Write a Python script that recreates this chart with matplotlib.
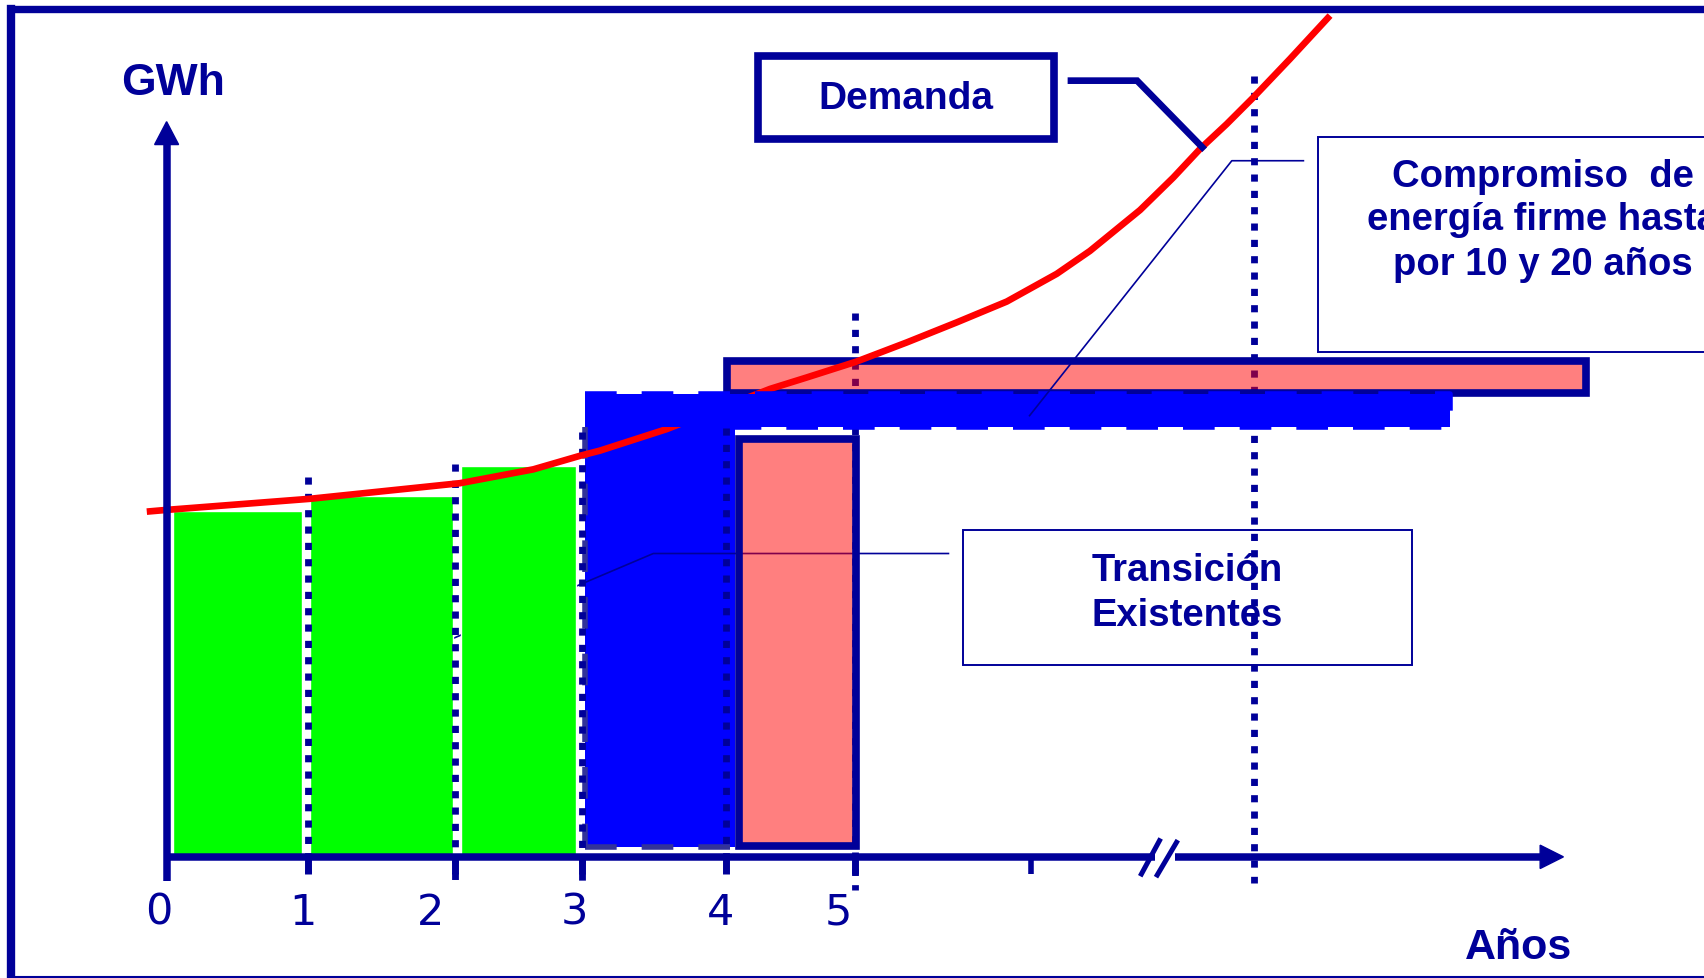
import numpy as np
import matplotlib.pyplot as plt
from matplotlib.patches import Rectangle, Polygon

NAVY = '#000099'
BOLD = 'Liberation Sans'

# contratos existentes (verde): inicio, fin (años) y energía (GWh, escala relativa)
exist_start = [0.05, 1.04, 2.14]
exist_end = [0.98, 2.08, 2.97]
exist_gwh = [99.8, 104.2, 112.9]

# curva de demanda
dem_years = [-0.144, 0.001, 1.042, 2.131, 2.664, 3.002, 3.148, 3.632, 4.383,
             4.649, 5.012, 5.375, 5.739, 6.102, 6.465, 6.706, 7.070, 7.312,
             7.505, 7.699, 7.893, 8.159, 8.450]
dem_gwh = [99.6, 100.1, 103.3, 107.8, 111.8, 115.7, 117.2, 123.4, 135.0,
           138.3, 142.9, 148.4, 154.2, 160.2, 168.2, 174.8, 186.6, 196.0,
           204.2, 211.4, 219.1, 230.2, 242.7]

# transicion (azul): bloque vertical + franja horizontal
trans_start = 3.04
trans_block_end = 4.13
trans_band_end = 9.32
trans_low = 2.8
trans_band_low = 123.9
trans_high = 133.4

# compromisos de energia firme (rosado): inicio, fin, minimo, maximo
firm_long = [4.07, 10.31, 133.7, 143.0]
firm_short = [4.16, 5.01, 3.0, 120.6]

# lineas punteadas de los años
mark_years = [1.03, 2.095, 3.02, 4.06, 5.0, 7.9]
mark_top = [109.6, 113.4, 122.6, 123.7, 156.8, 225.4]
mark_bottom = [-4.8, -8.6, -8.3, -3.3, -9.6, -7.6]

tick_labels = ['0', '1', '2', '3', '4', '5']
tick_label_x = [-0.06, 0.99, 1.92, 2.96, 4.02, 4.88]

fig = plt.figure(figsize=(17.04, 9.79), dpi=100)
ax = fig.add_axes([0, 0, 1, 1])
ax.set_xlim(-1.21, 11.166)
ax.set_ylim(-34.95, 247.49)
ax.axis('off')

# bloque azul
ax.add_patch(Rectangle((trans_start, trans_low), trans_block_end - trans_start,
                       trans_band_low - trans_low, facecolor='#0000FF',
                       edgecolor='none', zorder=1))
dash = (0, (5.7, 4.5))
ax.plot([trans_start, trans_start], [trans_band_low, trans_low], color='#333399',
        lw=4, ls=dash, zorder=1.5)
ax.plot([trans_start, trans_block_end], [trans_low, trans_low], color='#333399',
        lw=4, ls=dash, zorder=1.5)

# franja azul
ax.add_patch(Rectangle((trans_start, trans_band_low), trans_band_end - trans_start,
                       trans_high - trans_band_low, facecolor='#0000FF',
                       edgecolor='none', zorder=7))
ax.plot([trans_start, trans_band_end, trans_band_end, trans_block_end],
        [trans_high, trans_high, trans_band_low, trans_band_low],
        color='#0000FF', lw=4, ls=dash, zorder=7.5)

# barras verdes
ax.bar(exist_start, exist_gwh, width=np.subtract(exist_end, exist_start),
       align='edge', color='#00FF00', edgecolor='white', lw=1, zorder=3)

# punteadas
for x, top, bot in zip(mark_years, mark_top, mark_bottom):
    ax.plot([x, x], [top, bot], color=NAVY, lw=4.9, ls=(0, (1.05, 1.35)),
            dash_capstyle='butt', zorder=4.5)

# rectangulos rosados
for s, e, lo, hi in [firm_long, firm_short]:
    ax.add_patch(Rectangle((s, lo), e - s, hi - lo, facecolor=(1, 0, 0, 0.5),
                           edgecolor=NAVY, lw=5.5, joinstyle='miter', zorder=5))

# demanda
ax.plot(dem_years, dem_gwh, color='#FF0000', lw=4.8, solid_joinstyle='round',
        solid_capstyle='butt', zorder=6)

# ejes
ax.plot([0, 0], [-6.9, 206], color=NAVY, lw=5.4, solid_capstyle='butt', zorder=8)
ax.add_patch(Polygon([(-0.087, 205.5), (0.087, 205.5), (0, 212.1)],
                     closed=True, color=NAVY, zorder=8))
ax.plot([0, 7.178], [0, 0], color=NAVY, lw=5.4, solid_capstyle='butt', zorder=8)
ax.plot([7.325, 9.98], [0, 0], color=NAVY, lw=5.4, solid_capstyle='butt', zorder=8)
ax.add_patch(Polygon([(9.976, -3.37), (9.976, 3.37), (10.145, 0)],
                     closed=True, color=NAVY, zorder=8))
ax.plot([7.080, 7.211], [-4.95, 4.67], color=NAVY, lw=3.6, zorder=8)
ax.plot([7.195, 7.335], [-5.24, 4.2], color=NAVY, lw=3.6, zorder=8)
for x in mark_years[:5]:
    ax.plot([x, x], [0, -4.9], color=NAVY, lw=5, solid_capstyle='butt', zorder=8)
ax.plot([6.278, 6.278], [0, -4.95], color=NAVY, lw=4, solid_capstyle='butt', zorder=8)

for lab, x in zip(tick_labels, tick_label_x):
    ax.text(x, 0.0552, lab, transform=ax.get_xaxis_transform(), ha='center',
            va='baseline', fontsize=31, color=NAVY, family='DejaVu Sans')

T = ax.transAxes
ax.text(0.1016, 0.9030, 'GWh', transform=T, ha='center', va='baseline',
        fontsize=32, fontweight='bold', family=BOLD, color=NAVY)
ax.text(0.8911, 0.0201, 'Años', transform=T, ha='center', va='baseline',
        fontsize=31, fontweight='bold', family=BOLD, color=NAVY)

# marco
ax.plot([0.00646, 0.00646], [0.001, 0.9901], transform=T, color=NAVY, lw=6,
        solid_capstyle='projecting', zorder=10)
ax.plot([0.00646, 1.0], [0.9901, 0.9901], transform=T, color=NAVY, lw=5.3, zorder=10)
ax.plot([0.00646, 1.0], [0.001, 0.001], transform=T, color=NAVY, lw=1.5, zorder=10)

# Demanda
ax.add_patch(Rectangle((0.4451, 0.8565), 0.1737, 0.0851, transform=T,
                       facecolor='white', edgecolor=NAVY, lw=5.5, zorder=9))
ax.plot([0.6285, 0.6673, 0.7056], [0.9166, 0.9166, 0.8485], transform=T,
        color=NAVY, lw=4.8, solid_joinstyle='miter', zorder=9)
ax.text(0.5319, 0.8887, 'Demanda', transform=T, ha='center', va='baseline',
        fontsize=28, fontweight='bold', family=BOLD, color=NAVY, zorder=10)

# Compromiso (el recuadro sigue más allá del borde derecho, como en el original)
ax.add_patch(Rectangle((0.7737, 0.6391), 0.3, 0.2202, transform=T,
                       facecolor='white', edgecolor=NAVY, lw=1.4, zorder=9))
ax.plot([0.7649, 0.7229, 0.6042], [0.8348, 0.8348, 0.5744], transform=T,
        color=NAVY, lw=1.2, zorder=9)
for txt, y in zip(['Compromiso  de', 'energía firme hasta', 'por 10 y 20 años'],
                  [0.8087, 0.7651, 0.7191]):
    ax.text(0.9052, y, txt, transform=T, ha='center', va='baseline', fontsize=27.5,
            fontweight='bold', family=BOLD, color=NAVY, zorder=10)

# Transicion
ax.add_patch(Rectangle((0.5654, 0.3197), 0.263, 0.1379, transform=T,
                       facecolor='white', edgecolor=NAVY, lw=1.4, zorder=0.5))
ax.plot([0.5566, 0.3834, 0.2627], [0.4336, 0.4336, 0.3445], transform=T,
        color=NAVY, lw=1.2, zorder=2)
ax.text(0.6969, 0.4065, 'Transición', transform=T, ha='center', va='baseline',
        fontsize=27.5, fontweight='bold', family=BOLD, color=NAVY, zorder=4)
ax.text(0.6969, 0.3606, 'Existentes', transform=T, ha='center', va='baseline',
        fontsize=27.5, fontweight='bold', family=BOLD, color=NAVY, zorder=4)

fig.savefig('out.png', dpi=100, facecolor='white')
